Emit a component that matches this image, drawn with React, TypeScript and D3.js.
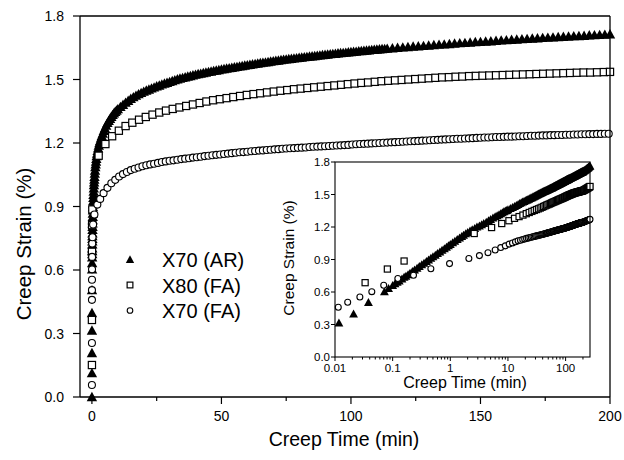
import React from 'react';
import * as d3 from 'd3';

// ---- data (time in min, creep strain in %) ----
const x70AR: [number, number][] = [
  [0, 0], [0.003, 0.113], [0.006, 0.208], [0.0117, 0.314], [0.021, 0.397], [0.038, 0.505], [0.072, 0.603],
  [0.085, 0.633], [0.1, 0.66], [0.11, 0.676], [0.12, 0.69], [0.13, 0.703], [0.145, 0.721], [0.158, 0.736],
  [0.17, 0.747], [0.185, 0.761], [0.2, 0.774], [0.22, 0.79], [0.24, 0.804], [0.265, 0.821], [0.29, 0.836],
  [0.32, 0.852], [0.35, 0.867], [0.385, 0.882], [0.42, 0.897], [0.46, 0.912], [0.5, 0.926], [0.55, 0.941],
  [0.6, 0.956], [0.66, 0.971], [0.72, 0.986], [0.79, 1.001], [0.86, 1.015], [0.93, 1.028], [1, 1.04],
  [1.1, 1.056], [1.2, 1.07], [1.32, 1.086], [1.45, 1.1], [1.58, 1.113], [1.7, 1.125], [1.85, 1.138],
  [2, 1.15], [2.2, 1.163], [2.4, 1.175], [2.65, 1.188], [2.9, 1.2], [3.2, 1.211], [3.5, 1.222],
  [3.8, 1.233], [4.2, 1.245], [4.6, 1.258], [5, 1.27], [5.5, 1.283], [6, 1.295], [6.5, 1.305], [7, 1.315],
  [7.5, 1.324], [8, 1.333], [8.5, 1.341], [9, 1.348], [9.5, 1.354], [10, 1.36], [11, 1.371], [12, 1.381],
  [13, 1.391], [14, 1.4], [15, 1.409], [16, 1.417], [17, 1.424], [18, 1.431], [19, 1.437], [20, 1.443],
  [21, 1.448], [22, 1.453], [23, 1.458], [24, 1.463], [25, 1.468], [26, 1.472], [27, 1.477], [28, 1.481],
  [29, 1.485], [30, 1.489], [31, 1.493], [32, 1.497], [33, 1.501], [34, 1.505], [35, 1.508], [36, 1.511],
  [37, 1.514], [38, 1.517], [39, 1.52], [40, 1.523], [41, 1.526], [42, 1.528], [43, 1.531], [44, 1.533],
  [45, 1.536], [46, 1.538], [47, 1.541], [48, 1.543], [49, 1.545], [50, 1.548], [51, 1.55], [52, 1.552],
  [53, 1.554], [54, 1.556], [55, 1.558], [56, 1.56], [57, 1.562], [58, 1.564], [59, 1.566], [60, 1.568],
  [61, 1.57], [62, 1.572], [63, 1.574], [64, 1.576], [65, 1.578], [66, 1.58], [67, 1.581], [68, 1.583],
  [69, 1.585], [70, 1.587], [71, 1.589], [72, 1.59], [73, 1.592], [74, 1.594], [75, 1.595], [76, 1.597],
  [77, 1.598], [78, 1.6], [79, 1.601], [80, 1.603], [81, 1.604], [82, 1.606], [83, 1.607], [84, 1.609],
  [85, 1.61], [86, 1.611], [87, 1.613], [88, 1.614], [89, 1.616], [90, 1.617], [91, 1.618], [92, 1.62],
  [93, 1.621], [94, 1.622], [95, 1.624], [96, 1.625], [97, 1.626], [98, 1.627], [99, 1.629], [100, 1.63],
  [101, 1.631], [102, 1.632], [103, 1.634], [104, 1.635], [105, 1.636], [106, 1.637], [107, 1.638],
  [108, 1.64], [109, 1.641], [110, 1.642], [111, 1.643], [112, 1.644], [113, 1.645], [114, 1.646],
  [116, 1.648], [118, 1.65], [120, 1.652], [122, 1.654], [124, 1.656], [126, 1.657], [128, 1.659],
  [130, 1.661], [132, 1.663], [134, 1.665], [136, 1.666], [138, 1.668], [140, 1.67], [142, 1.672],
  [144, 1.673], [146, 1.675], [148, 1.677], [150, 1.678], [152, 1.68], [154, 1.681], [156, 1.683],
  [158, 1.685], [160, 1.686], [162, 1.688], [164, 1.689], [166, 1.691], [168, 1.692], [170, 1.694],
  [172, 1.695], [174, 1.697], [176, 1.698], [178, 1.699], [180, 1.701], [182, 1.702], [184, 1.703],
  [186, 1.705], [188, 1.706], [190, 1.707], [192, 1.709], [194, 1.71], [196, 1.711], [198, 1.712],
  [200, 1.714], [205, 1.717], [210, 1.72], [215, 1.724], [220, 1.728], [225, 1.732], [230, 1.736],
  [235, 1.74], [240, 1.744], [245, 1.748], [250, 1.752], [255, 1.756], [260, 1.76], [265, 1.764],
];

const x80FA: [number, number][] = [
  [0.002, 0.151], [0.005, 0.364], [0.0333, 0.686], [0.081, 0.812], [0.158, 0.886],
  [2.6, 1.14], [5.2, 1.195], [7.8, 1.232], [10.4, 1.258], [13, 1.28], [15.6, 1.296], [18.2, 1.31],
  [20.8, 1.323], [23.4, 1.334], [26, 1.344], [28.6, 1.353], [31.2, 1.361], [33.8, 1.368], [36.4, 1.375],
  [39, 1.382], [41.6, 1.389], [44.2, 1.396], [46.8, 1.402], [49.4, 1.407], [52, 1.412], [54.6, 1.417],
  [57.2, 1.422], [59.8, 1.427], [62.4, 1.431], [65, 1.435], [67.6, 1.439], [70.2, 1.443], [72.8, 1.447],
  [75.4, 1.45], [78, 1.454], [80.6, 1.457], [83.2, 1.46], [85.8, 1.463], [88.4, 1.466], [91, 1.469],
  [93.6, 1.472], [96.2, 1.475], [98.8, 1.478], [101.4, 1.481], [104, 1.484], [106.6, 1.486],
  [109.2, 1.489], [111.8, 1.492], [114.4, 1.494], [117, 1.496], [119.6, 1.498], [122.2, 1.5],
  [124.8, 1.502], [127.4, 1.504], [130, 1.506], [132.6, 1.508], [135.2, 1.51], [137.8, 1.511],
  [140.4, 1.513], [143, 1.514], [145.6, 1.516], [148.2, 1.517], [150.8, 1.518], [153.4, 1.519],
  [156, 1.52], [158.6, 1.521], [161.2, 1.522], [163.8, 1.523], [166.4, 1.524], [169, 1.525],
  [171.6, 1.526], [174.2, 1.527], [176.8, 1.528], [179.4, 1.529], [182, 1.53], [184.6, 1.531],
  [187.2, 1.532], [189.8, 1.533], [192.4, 1.533], [195, 1.534], [197.6, 1.535], [200, 1.536],
  [205, 1.538], [210, 1.541], [215, 1.544], [220, 1.547], [225, 1.55], [230, 1.553], [235, 1.556],
  [240, 1.559], [245, 1.562], [250, 1.565], [255, 1.568], [260, 1.571], [265, 1.574],
];

const x70FA: [number, number][] = [
  [0.001, 0.057], [0.004, 0.255], [0.0114, 0.459], [0.0166, 0.505], [0.027, 0.554], [0.0435, 0.603],
  [0.07, 0.662], [0.123, 0.725], [0.23, 0.755], [0.46, 0.815], [0.97, 0.862], [2.1, 0.909], [3.2, 0.936],
  [4.5, 0.963], [6, 0.988], [7.5, 1.01], [9, 1.026], [10.5, 1.042], [12, 1.053], [13.5, 1.063],
  [15, 1.072], [16.5, 1.078], [18, 1.084], [19.5, 1.09], [21, 1.095], [22.5, 1.099], [24, 1.102],
  [25.5, 1.106], [27, 1.11], [28.5, 1.113], [30, 1.116], [31.5, 1.118], [33, 1.121], [34.5, 1.124],
  [36, 1.126], [37.5, 1.128], [39, 1.131], [40.5, 1.133], [42, 1.135], [43.5, 1.138], [45, 1.14],
  [46.5, 1.142], [48, 1.144], [49.5, 1.146], [51, 1.148], [52.5, 1.15], [54, 1.152], [55.5, 1.154],
  [57, 1.156], [58.5, 1.157], [60, 1.159], [61.5, 1.161], [63, 1.162], [64.5, 1.164], [66, 1.165],
  [67.5, 1.167], [69, 1.168], [70.5, 1.17], [72, 1.171], [73.5, 1.173], [75, 1.174], [76.5, 1.175],
  [78, 1.176], [79.5, 1.177], [81, 1.178], [82.5, 1.179], [84, 1.181], [85.5, 1.182], [87, 1.183],
  [88.5, 1.184], [90, 1.185], [91.5, 1.186], [93, 1.187], [94.5, 1.188], [96, 1.189], [97.5, 1.19],
  [99, 1.191], [100.5, 1.193], [102, 1.194], [103.5, 1.195], [105, 1.196], [106.5, 1.197], [108, 1.198],
  [109.5, 1.199], [111, 1.2], [112.5, 1.201], [114, 1.202], [115.5, 1.203], [117, 1.204], [118.5, 1.205],
  [120, 1.206], [121.5, 1.207], [123, 1.208], [124.5, 1.209], [126, 1.21], [127.5, 1.211], [129, 1.212],
  [130.5, 1.213], [132, 1.214], [133.5, 1.215], [135, 1.216], [136.5, 1.217], [138, 1.218],
  [139.5, 1.219], [141, 1.22], [142.5, 1.22], [144, 1.221], [145.5, 1.222], [147, 1.223], [148.5, 1.224],
  [150, 1.225], [151.5, 1.226], [153, 1.226], [154.5, 1.227], [156, 1.228], [157.5, 1.228], [159, 1.229],
  [160.5, 1.23], [162, 1.23], [163.5, 1.231], [165, 1.232], [166.5, 1.232], [168, 1.233], [169.5, 1.234],
  [171, 1.234], [172.5, 1.235], [174, 1.236], [175.5, 1.236], [177, 1.237], [178.5, 1.237], [180, 1.238],
  [181.5, 1.238], [183, 1.239], [184.5, 1.239], [186, 1.24], [187.5, 1.24], [189, 1.241], [190.5, 1.241],
  [192, 1.242], [193.5, 1.242], [195, 1.243], [196.5, 1.243], [198, 1.244], [199.5, 1.244],
  [205, 1.247], [210, 1.249], [215, 1.251], [220, 1.253], [225, 1.255], [230, 1.257], [235, 1.259],
  [240, 1.261], [245, 1.263], [250, 1.265], [255, 1.267], [260, 1.269], [265, 1.271],
];

const legendLabels = ['X70 (AR)', 'X80 (FA)', 'X70 (FA)'];
const mainXTicks = [0, 50, 100, 150, 200];
const mainXMinorTicks = [25, 75, 125, 175];
const yTicks = [0, 0.3, 0.6, 0.9, 1.2, 1.5, 1.8];
const insetXTicks = [0.01, 0.1, 1, 10, 100];
const insetXTickLabels = ['0.01', '0.1', '1', '10', '100'];
const axisTitleX = 'Creep Time (min)';
const axisTitleY = 'Creep Strain (%)';

const FONT = "Arial, 'Liberation Sans', Helvetica, sans-serif";

type Kind = 'tri' | 'sq' | 'circ';

function Marker({ kind, x, y, k = 1 }: { kind: Kind; x: number; y: number; k?: number }) {
  if (kind === 'tri') {
    const w = 10.4 * k;
    const h = 9.4 * k;
    return (
      <path
        d={`M${x},${y - h * 0.55}L${x + w / 2},${y + h * 0.45}L${x - w / 2},${y + h * 0.45}Z`}
        fill="#000"
      />
    );
  }
  if (kind === 'sq') {
    const h = 3.6 * k;
    return <rect x={x - h} y={y - h} width={2 * h} height={2 * h} fill="#fff" stroke="#000" strokeWidth={1.2} />;
  }
  return <circle cx={x} cy={y} r={3.5 * k} fill="#fff" stroke="#000" strokeWidth={1.1} />;
}

const seriesList: { data: [number, number][]; kind: Kind }[] = [
  { data: x70AR, kind: 'tri' },
  { data: x80FA, kind: 'sq' },
  { data: x70FA, kind: 'circ' },
];

export default function App() {
  const W = 624;
  const H = 460;

  // main chart scales
  const x = d3.scaleLinear().domain([-4.6, 200]).range([80, 610]);
  const y = d3.scaleLinear().domain([0, 1.8]).range([397, 16]);

  // inset scales
  const xi = d3.scaleLog().domain([0.01, 265]).range([335, 590]);
  const yi = d3.scaleLinear().domain([0, 1.8]).range([357, 162]);

  const insetMinor: number[] = [];
  for (let dec = 0.01; dec < 200; dec *= 10) {
    for (let m = 2; m <= 9; m++) {
      const v = dec * m;
      if (v <= 265) insetMinor.push(v);
    }
  }

  return (
    <svg
      width={W}
      height={H}
      viewBox={`0 0 ${W} ${H}`}
      style={{ position: 'absolute', left: 0, top: 0, background: '#fff' }}
      fontFamily={FONT}
    >
      <rect x={0} y={0} width={W} height={H} fill="#fff" />

      {/* main data */}
      <g>
        {seriesList.map((s, si) => (
          <g key={si}>
            {s.data
              .filter((d) => d[0] <= 200)
              .map((d, i) => (
                <Marker key={i} kind={s.kind} x={x(d[0])} y={y(d[1])} />
              ))}
          </g>
        ))}
      </g>

      {/* main frame */}
      <g stroke="#000" strokeWidth={1.3} fill="none">
        <line x1={80} y1={16} x2={610} y2={16} />
        <line x1={610} y1={16} x2={610} y2={397} />
        <line x1={80} y1={16} x2={80} y2={397} />
        <line x1={80} y1={397} x2={610} y2={397} />
      </g>

      {/* main x axis ticks */}
      <g stroke="#000" strokeWidth={1.2}>
        {mainXTicks.map((t) => (
          <line key={t} x1={x(t)} x2={x(t)} y1={397} y2={404} />
        ))}
        {mainXMinorTicks.map((t) => (
          <line key={t} x1={x(t)} x2={x(t)} y1={397} y2={401} />
        ))}
      </g>
      <g fontSize={14} textAnchor="middle" fill="#000">
        {mainXTicks.map((t) => (
          <text key={t} x={x(t)} y={421}>
            {d3.format('d')(t)}
          </text>
        ))}
      </g>

      {/* main y axis ticks */}
      <g stroke="#000" strokeWidth={1.2}>
        {yTicks.map((t) => (
          <line key={t} x1={73} x2={80} y1={y(t)} y2={y(t)} />
        ))}
      </g>
      <g fontSize={14} textAnchor="end" fill="#000">
        {yTicks.map((t) => (
          <text key={t} x={64} y={y(t) + 5}>
            {d3.format('.1f')(t)}
          </text>
        ))}
      </g>

      {/* main axis titles */}
      <text x={344} y={446} fontSize={19.5} textAnchor="middle" fill="#000">
        {axisTitleX}
      </text>
      <text transform="translate(31,244) rotate(-90)" fontSize={20.5} textAnchor="middle" fill="#000">
        {axisTitleY}
      </text>

      {/* legend */}
      <g>
        {legendLabels.map((lab, i) => {
          const cy = 259.5 + i * 25.5;
          return (
            <g key={lab}>
              <Marker kind={seriesList[i].kind} x={130} y={cy} k={0.8} />
              <text x={162} y={cy + 7.5} fontSize={20} fill="#000">
                {lab}
              </text>
            </g>
          );
        })}
      </g>

      {/* inset */}
      <rect x={335} y={162} width={255} height={195} fill="#fff" />
      <g>
        {seriesList.map((s, si) => (
          <g key={si}>
            {s.data
              .filter((d) => d[0] >= 0.01 && d[0] <= 265)
              .map((d, i) => (
                <Marker key={i} kind={s.kind} x={xi(d[0])} y={yi(d[1])} k={0.85} />
              ))}
          </g>
        ))}
      </g>
      <g stroke="#000" strokeWidth={1.1} fill="none">
        <rect x={335} y={162} width={255} height={195} />
      </g>
      <g stroke="#000" strokeWidth={1}>
        {insetXTicks.map((t) => (
          <line key={t} x1={xi(t)} x2={xi(t)} y1={357} y2={361} />
        ))}
        {insetMinor.map((t) => (
          <line key={t} x1={xi(t)} x2={xi(t)} y1={357} y2={359.5} />
        ))}
        {yTicks.map((t) => (
          <line key={t} x1={331} x2={335} y1={yi(t)} y2={yi(t)} />
        ))}
      </g>
      <g fontSize={11.5} textAnchor="middle" fill="#000">
        {insetXTicks.map((t, i) => (
          <text key={t} x={xi(t)} y={372}>
            {insetXTickLabels[i]}
          </text>
        ))}
      </g>
      <g fontSize={11.5} textAnchor="end" fill="#000">
        {yTicks.map((t) => (
          <text key={t} x={330} y={yi(t) + 4}>
            {d3.format('.1f')(t)}
          </text>
        ))}
      </g>
      <text x={465} y={388} fontSize={16} textAnchor="middle" fill="#000">
        {axisTitleX}
      </text>
      <text transform="translate(293.5,258) rotate(-90)" fontSize={15.5} textAnchor="middle" fill="#000">
        {axisTitleY}
      </text>
    </svg>
  );
}
